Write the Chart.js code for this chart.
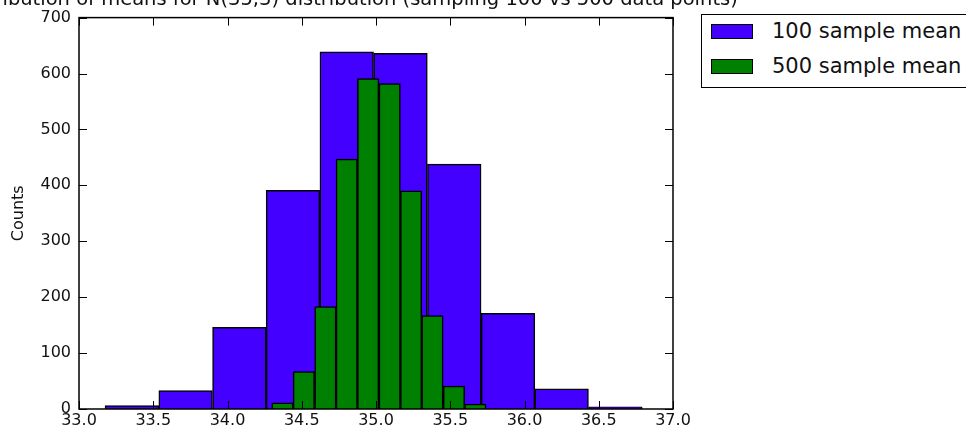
<!DOCTYPE html>
<html>
<head>
<meta charset="utf-8">
<script src="https://cdn.jsdelivr.net/npm/chart.js@4"></script>
<style>
  html, body { margin: 0; padding: 0; background: #fff; overflow: hidden; }
  #wrap { position: relative; width: 966px; height: 436px; }
  #legend {
    position: absolute; left: 701px; top: 14px; width: 300px; height: 74px;
    border: 1px solid #000; box-sizing: border-box; background: #fff;
    font-family: "DejaVu Sans", sans-serif; font-size: 21px; color: #111;
  }
  #legend .item { position: absolute; left: 9px; height: 22px; display: flex; align-items: center; white-space: nowrap; }
  #legend .sw { width: 42px; height: 15px; border: 1px solid #000; box-sizing: border-box; margin-right: 19px; }
</style>
</head>
<body>
<div id="wrap">
  <canvas id="chart" width="966" height="436"></canvas>
  <div id="legend"></div>
</div>
<script>
const TITLE = "Distribution of means for N(35,3) distribution (sampling 100 vs 500 data points)";
const Y_LABEL = "Counts";

// bin centres and counts
const blueCenters = [33.356, 33.718, 34.080, 34.441, 34.803, 35.165, 35.527, 35.889, 36.250, 36.612];
const blueCounts = [6, 33, 146, 391, 639, 636, 438, 171, 36, 4];
const greenCenters = [34.370, 34.514, 34.659, 34.803, 34.947, 35.092, 35.236, 35.380, 35.525, 35.669];
const greenCounts = [11, 67, 183, 447, 591, 582, 390, 167, 41, 9];

const X_MIN = 33.0, X_MAX = 37.0, X_STEP = 0.5;
const Y_MIN = 0, Y_MAX = 700, Y_STEP = 100;

const FONT = "DejaVu Sans";
const BLUE = "#4400ff";
const GREEN = "#008000";
const TITLE_SHIFT = -29; // title sits a little left of the axes centre in the original

const toPoints = (xs, ys) => xs.map((x, i) => ({ x, y: ys[i] }));

// matplotlib style frame, inward ticks and the title over the axes
const frame = {
  id: "frame",
  afterDatasetsDraw(chart) {
    const { ctx, chartArea: a, scales } = chart;
    ctx.save();
    ctx.strokeStyle = "#000";
    ctx.lineWidth = 1;
    ctx.beginPath();
    scales.x.ticks.forEach((t) => {
      const px = Math.round(scales.x.getPixelForValue(t.value)) + 0.5;
      ctx.moveTo(px, a.bottom); ctx.lineTo(px, a.bottom - 8);
      ctx.moveTo(px, a.top); ctx.lineTo(px, a.top + 8);
    });
    scales.y.ticks.forEach((t) => {
      const py = Math.round(scales.y.getPixelForValue(t.value)) + 0.5;
      ctx.moveTo(a.left, py); ctx.lineTo(a.left + 8, py);
      ctx.moveTo(a.right, py); ctx.lineTo(a.right - 8, py);
    });
    ctx.stroke();
    ctx.lineWidth = 1.5;
    ctx.strokeRect(a.left, a.top, a.right - a.left, a.bottom - a.top);

    ctx.fillStyle = "#111";
    ctx.font = `19.5px "${FONT}"`;
    ctx.textAlign = "center";
    ctx.textBaseline = "alphabetic";
    ctx.fillText(TITLE, (a.left + a.right) / 2 + TITLE_SHIFT, 4.5);
    ctx.restore();
  },
};

const chart = new Chart(document.getElementById("chart"), {
  type: "bar",
  data: {
    datasets: [
      {
        label: "100 sample mean",
        data: toPoints(blueCenters, blueCounts),
        xAxisID: "x",
        backgroundColor: BLUE,
        borderColor: "#000",
        borderWidth: 1.5,
        barPercentage: 1,
        categoryPercentage: 1,
        grouped: false,
        order: 2,
      },
      {
        label: "500 sample mean",
        data: toPoints(greenCenters, greenCounts),
        xAxisID: "x2",
        backgroundColor: GREEN,
        borderColor: "#000",
        borderWidth: 1.5,
        barPercentage: 1,
        categoryPercentage: 1,
        grouped: false,
        order: 1,
      },
    ],
  },
  options: {
    responsive: false,
    animation: false,
    layout: { padding: { left: 0, top: 14, right: 293, bottom: 0 } },
    plugins: {
      legend: { display: false },
      title: { display: false },
      tooltip: { enabled: false },
    },
    scales: {
      x: {
        type: "linear",
        min: X_MIN,
        max: X_MAX,
        offset: false,
        grid: { display: false, drawTicks: false, offset: false },
        border: { display: false },
        ticks: {
          stepSize: X_STEP,
          color: "#111",
          font: { family: FONT, size: 16 },
          padding: 2,
          maxRotation: 0,
          autoSkip: false,
          callback: (v) => v.toFixed(1),
        },
        afterFit: (s) => { s.height = 27; },
      },
      x2: {
        type: "linear",
        min: X_MIN,
        max: X_MAX,
        offset: false,
        display: false,
        ticks: { stepSize: X_STEP },
      },
      y: {
        min: Y_MIN,
        max: Y_MAX,
        grid: { display: false, drawTicks: false },
        border: { display: false },
        ticks: {
          stepSize: Y_STEP,
          color: "#111",
          font: { family: FONT, size: 16 },
          padding: 8,
        },
        title: {
          display: true,
          text: Y_LABEL,
          color: "#111",
          font: { family: FONT, size: 16 },
          padding: { top: 9, bottom: 0 },
        },
        afterFit: (s) => { s.width = 79; },
      },
    },
  },
  plugins: [frame],
});

// legend box, built from the datasets
const legend = document.getElementById("legend");
legend.innerHTML = chart.data.datasets
  .map((d, i) => `<div class="item" style="top:${5 + i * 35}px"><span class="sw" style="background:${d.backgroundColor}"></span>${d.label}</div>`)
  .join("");
</script>
</body>
</html>
